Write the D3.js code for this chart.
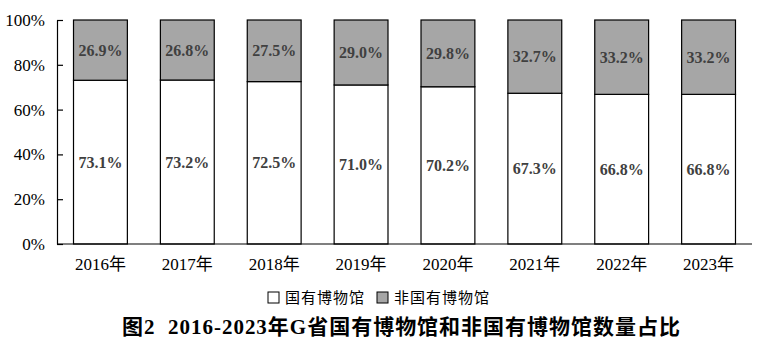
<!DOCTYPE html>
<html><head><meta charset="utf-8">
<script src="https://cdn.jsdelivr.net/npm/d3@7"></script>
<style>body{margin:0;background:#fff}</style>
</head><body>
<script>
const years = ["2016年","2017年","2018年","2019年","2020年","2021年","2022年","2023年"];
const stateOwned = [73.1,73.2,72.5,71.0,70.2,67.3,66.8,66.8];
const nonState = [26.9,26.8,27.5,29.0,29.8,32.7,33.2,33.2];
const yTicks = [0,20,40,60,80,100];
const seriesNames = ["国有博物馆","非国有博物馆"];
const title = "图2  2016-2023年G省国有博物馆和非国有博物馆数量占比";

const W=766,H=349;
const svg=d3.select("body").append("svg").attr("width",W).attr("height",H);
const serif='"Times New Roman","Liberation Serif","Noto Sans CJK SC",serif';
const x=d3.scaleBand().domain(years).range([57,752]).paddingInner(0.38).paddingOuter(0.19);
const y=d3.scaleLinear().domain([0,100]).range([244,20]);
const colors=["#ffffff","#a6a6a6"];

const g=svg.append("g");
years.forEach((yr,i)=>{
  const a=stateOwned[i], b=nonState[i];
  g.append("rect").attr("x",x(yr)).attr("width",x.bandwidth())
   .attr("y",y(a)).attr("height",y(0)-y(a))
   .attr("fill",colors[0]).attr("stroke","#000").attr("stroke-width",1.2);
  g.append("rect").attr("x",x(yr)).attr("width",x.bandwidth())
   .attr("y",y(100)).attr("height",y(a)-y(100))
   .attr("fill",colors[1]).attr("stroke","#000").attr("stroke-width",1.2);
  g.append("text").attr("x",x(yr)+x.bandwidth()/2).attr("y",(y(a)+y(0))/2)
   .attr("dy","0.35em").attr("text-anchor","middle").attr("font-family",serif)
   .attr("font-weight","bold").attr("font-size",16).attr("fill","#404040").text(a.toFixed(1)+"%");
  g.append("text").attr("x",x(yr)+x.bandwidth()/2).attr("y",(y(100)+y(a))/2)
   .attr("dy","0.35em").attr("text-anchor","middle").attr("font-family",serif)
   .attr("font-weight","bold").attr("font-size",16).attr("fill","#404040").text(b.toFixed(1)+"%");
});

// y axis
const ya=svg.append("g").attr("transform","translate(57,0)")
  .call(d3.axisLeft(y).tickValues(yTicks).tickFormat(d=>d+"%").tickSizeInner(-6).tickSizeOuter(0).tickPadding(12));
ya.select(".domain").attr("stroke","#000").attr("stroke-width",1.2);
ya.selectAll(".tick line").attr("stroke","#000").attr("stroke-width",1.2);
ya.selectAll("text").attr("font-family",serif).attr("font-size",17).attr("fill","#000");

// x axis
const xa=svg.append("g").attr("transform","translate(0,244)")
  .call(d3.axisBottom(x).tickSize(0).tickPadding(14));
xa.select(".domain").attr("stroke","#000").attr("stroke-width",1.2).attr("d","M57,0H752");
xa.selectAll("text").attr("font-family",serif).attr("font-size",17).attr("fill","#000");

// legend
const sans='"Noto Sans CJK SC","Noto Sans",sans-serif';
const lg=svg.append("g");
const lx=[268,377];
seriesNames.forEach((n,i)=>{
  lg.append("rect").attr("x",lx[i]).attr("y",292).attr("width",11).attr("height",11)
    .attr("fill",colors[i]).attr("stroke","#000").attr("stroke-width",1);
  lg.append("text").attr("x",lx[i]+17).attr("y",303).attr("font-family",sans)
    .attr("font-size",15).attr("letter-spacing",1).attr("fill","#000").text(n);
});

svg.append("text").attr("x",122).attr("y",334).attr("font-family",serif)
  .attr("font-weight","bold").attr("font-size",21).attr("fill","#000")
  .attr("textLength",558).attr("lengthAdjust","spacing").attr("xml:space","preserve")
  .style("white-space","pre").text(title);
</script>
</body></html>
